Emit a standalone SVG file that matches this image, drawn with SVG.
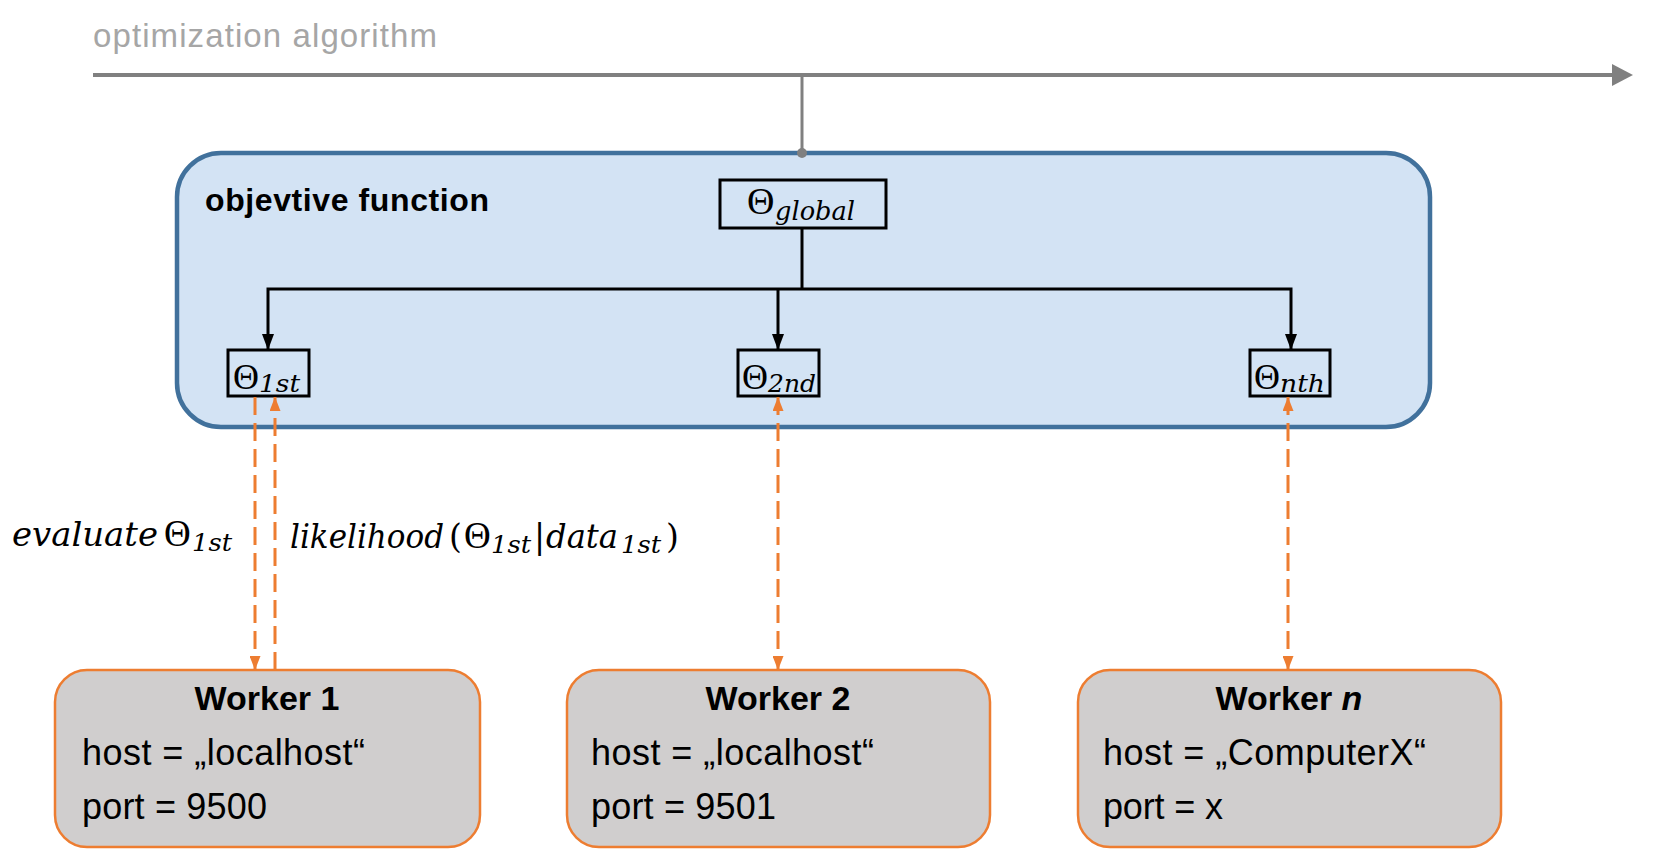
<svg xmlns="http://www.w3.org/2000/svg" width="1654" height="853" viewBox="0 0 1654 853">
<defs>
<style>
.sans{font-family:"Liberation Sans",Arial,sans-serif}
.title{font-size:33px;fill:#a6a6a6}
.bold{font-weight:bold}
.math{font-family:"DejaVu Serif","Liberation Serif",serif;fill:#000}
.th{font-family:"Liberation Serif","DejaVu Serif",serif}
.it{font-style:italic}
.worker rect{fill:#d0cece;stroke:#ed7d31;stroke-width:2.5}
.wt{font-size:34px;font-weight:bold;text-anchor:middle}
.wl{font-size:36px}
.pbox{fill:none;stroke:#000;stroke-width:3}
.blk{stroke:#000;stroke-width:3;fill:none}
.org{stroke:#ed7d31;stroke-width:3;fill:none;stroke-dasharray:18 8}
</style>
<marker id="ab" viewBox="0 0 16 12" refX="16" refY="6" markerWidth="16" markerHeight="12" markerUnits="userSpaceOnUse" orient="auto-start-reverse"><path d="M0,0 L16,6 L0,12 z" fill="#000"/></marker>
<marker id="ao" viewBox="0 0 14 11" refX="14" refY="5.5" markerWidth="14" markerHeight="11" markerUnits="userSpaceOnUse" orient="auto-start-reverse"><path d="M0,0 L14,5.5 L0,11 z" fill="#ed7d31"/></marker>
</defs>
<rect width="1654" height="853" fill="#fff"/>

<g id="timeline">
<text class="sans title" x="93" y="47" textLength="344">optimization algorithm</text>
<line x1="93" y1="75" x2="1614" y2="75" stroke="#808080" stroke-width="4"/>
<polygon points="1612,64 1633,75 1612,86" fill="#808080"/>
</g>

<g id="objective">
<rect x="177" y="153" width="1253" height="274" rx="44" ry="44" fill="#d3e3f4" stroke="#41719c" stroke-width="4.5"/>
<text class="sans bold" x="205" y="211" font-size="32" textLength="284">objevtive function</text>
</g>

<g id="theta-global">
<rect class="pbox" x="720" y="180" width="166" height="48"/>
<text class="math" y="214"><tspan class="th" x="747" font-size="38">Θ</tspan><tspan class="it" x="775" y="220" font-size="26" textLength="80" lengthAdjust="spacingAndGlyphs">global</tspan></text>
</g>

<g id="theta-1st">
<rect class="pbox" x="228" y="350" width="81" height="46"/>
<text class="math" y="389"><tspan class="th" x="233" font-size="36">Θ</tspan><tspan class="it" x="259" y="392" font-size="24" textLength="41" lengthAdjust="spacingAndGlyphs">1st</tspan></text>
</g>

<g id="theta-2nd">
<rect class="pbox" x="738" y="350" width="81" height="46"/>
<text class="math" y="389"><tspan class="th" x="742" font-size="36">Θ</tspan><tspan class="it" x="768" y="392" font-size="24" textLength="48" lengthAdjust="spacingAndGlyphs">2nd</tspan></text>
</g>

<g id="theta-nth">
<rect class="pbox" x="1250" y="350" width="80" height="46"/>
<text class="math" y="389"><tspan class="th" x="1254" font-size="36">Θ</tspan><tspan class="it" x="1280" y="392" font-size="24" textLength="45" lengthAdjust="spacingAndGlyphs">nth</tspan></text>
</g>

<g id="worker-1" class="worker">
<rect x="55" y="670" width="425" height="177" rx="32" ry="32"/>
<text class="sans wt" x="267" y="710">Worker 1</text>
<text class="sans wl" x="82" y="765" textLength="283">host = „localhost“</text>
<text class="sans wl" x="82" y="819" textLength="185">port = 9500</text>
</g>

<g id="worker-2" class="worker">
<rect x="567" y="670" width="423" height="177" rx="32" ry="32"/>
<text class="sans wt" x="778" y="710">Worker 2</text>
<text class="sans wl" x="591" y="765" textLength="283">host = „localhost“</text>
<text class="sans wl" x="591" y="819" textLength="185">port = 9501</text>
</g>

<g id="worker-n" class="worker">
<rect x="1078" y="670" width="423" height="177" rx="32" ry="32"/>
<text class="sans wt" x="1289" y="710">Worker <tspan font-style="italic">n</tspan></text>
<text class="sans wl" x="1103" y="765" textLength="323">host = „ComputerX“</text>
<text class="sans wl" x="1103" y="819" textLength="120">port = x</text>
</g>

<g id="labels">
<text class="math" y="546"><tspan class="it" x="12" font-size="33" textLength="146" lengthAdjust="spacingAndGlyphs">evaluate</tspan><tspan class="th" x="164" font-size="37">Θ</tspan><tspan class="it" x="192" y="551" font-size="24" textLength="40" lengthAdjust="spacingAndGlyphs">1st</tspan></text>
<text class="math" y="548"><tspan class="it" x="290" font-size="33" textLength="154" lengthAdjust="spacingAndGlyphs">likelihood</tspan><tspan x="449" font-size="33">(</tspan><tspan class="th" x="464" font-size="37">Θ</tspan><tspan class="it" x="491" y="553" font-size="24" textLength="40" lengthAdjust="spacingAndGlyphs">1st</tspan><tspan x="534" y="548" font-size="33">|</tspan><tspan class="it" x="546" font-size="33" textLength="72" lengthAdjust="spacingAndGlyphs">data</tspan><tspan class="it" x="621" y="553" font-size="24" textLength="40" lengthAdjust="spacingAndGlyphs">1st</tspan><tspan x="666" y="548" font-size="33">)</tspan></text>
</g>

<g id="connectors">
<line x1="802" y1="75" x2="802" y2="153" stroke="#808080" stroke-width="3"/>
<circle cx="802" cy="153" r="5" fill="#808080"/>
<line class="blk" x1="802" y1="228" x2="802" y2="289"/>
<polyline class="blk" points="268,350 268,289 1291,289 1291,350" marker-start="url(#ab)" marker-end="url(#ab)"/>
<line class="blk" x1="778" y1="289" x2="778" y2="350" marker-end="url(#ab)"/>
<line class="org" x1="255" y1="397" x2="255" y2="670" marker-end="url(#ao)"/>
<line class="org" x1="275" y1="670" x2="275" y2="397" marker-end="url(#ao)"/>
<line class="org" x1="778" y1="397" x2="778" y2="670" marker-start="url(#ao)" marker-end="url(#ao)"/>
<line class="org" x1="1288" y1="397" x2="1288" y2="670" marker-start="url(#ao)" marker-end="url(#ao)"/>
</g>
</svg>
